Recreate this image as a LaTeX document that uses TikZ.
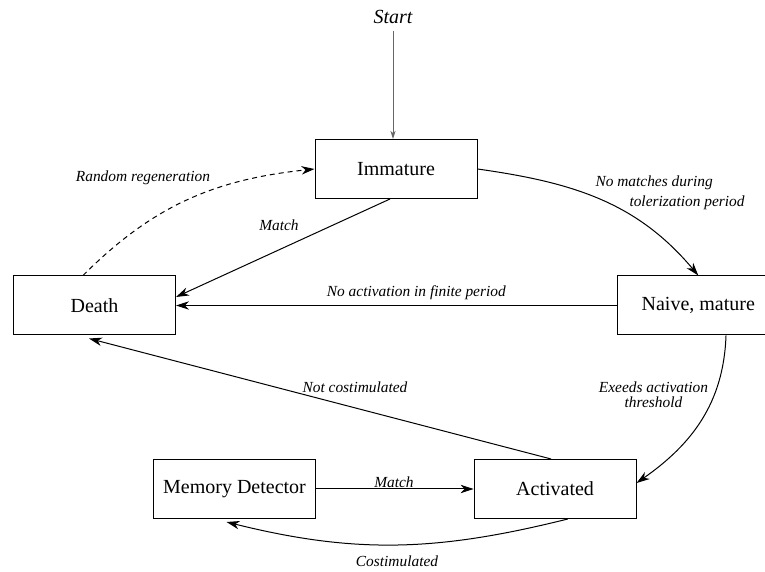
\documentclass[tikz,border=0pt]{standalone}
\usepackage{fontspec}
\setmainfont{Liberation Serif}
\usetikzlibrary{positioning, arrows.meta}

\begin{document}
\begin{tikzpicture}[
        x=0.5pt, y=0.5pt,
        box/.style={draw, line width=0.5pt, minimum width=81pt, minimum height=29.5pt, inner sep=0pt, font=\fontsize{10}{12}\selectfont},
        lbl/.style={inner sep=0pt, font=\fontsize{7.7}{10}\selectfont\itshape},
        edge/.style={draw, line width=0.5pt, -{Stealth[length=6.5pt, width=4.2pt, inset=2pt]}},
        startedge/.style={draw, black!60, line width=0.5pt, -{Stealth[length=4pt, width=2.5pt, inset=1pt]}}
    ]
    \useasboundingbox (0,0) rectangle (765,572);

    % Nodes
    \node (imm) [box] at (396,403) {Immature};
    \node (death) [box] at (94.5,266.5) {Death};
    \node (naive) [box, right=220.4pt of death] {Naive, mature};
    \node (memory) [box] at (234.5,83) {Memory Detector};
    \node (act) [box, right=78.8pt of memory] {Activated};
    \node (start) [font=\fontsize{10}{12}\selectfont\itshape] at (393,555) {Start};

    % Arrows
    \path[startedge] (start.south) -- (start.south |- imm.north);
    \path[edge] (imm.east) to[out=-8, in=130] (naive.north)
        node[lbl, anchor=west, align=left] at (595,379) {No matches during\\\hspace{17pt}tolerization period};
    \path[edge] ([xshift=-3pt]imm.south) -- ([yshift=4.25pt]death.east)
        node[lbl] at (279,347) {Match};
    \path[edge, dash pattern=on 2.5pt off 2pt] ([xshift=-5.75pt]death.north) to[out=45, in=186] (imm.west)
        node[lbl] at (143,394) {Random regeneration};
    \path[edge] (naive.west) -- (death.east)
        node[lbl] at (416.3,279) {No activation in finite period};
    \path[edge] ([xshift=13.85pt]naive.south) to[out=-92, in=35] ([yshift=3pt]act.east)
        node[lbl, align=center] at (653.5,177.5) {Exeeds activation\\[-2.5pt]threshold};
    \path[edge] ([xshift=-2pt]act.north) -- ([xshift=-2.75pt, yshift=-1.5pt]death.south)
        node[lbl] at (355,185) {Not costimulated};
    \path[edge] (memory.east) -- (act.west)
        node[lbl] at (394,90) {Match};
    \path[edge] ([xshift=6.35pt]act.south) to[out=-166, in=-14] ([xshift=-4pt, yshift=-1.5pt]memory.south)
        node[lbl] at (397,11) {Costimulated};

\end{tikzpicture}
\end{document}
